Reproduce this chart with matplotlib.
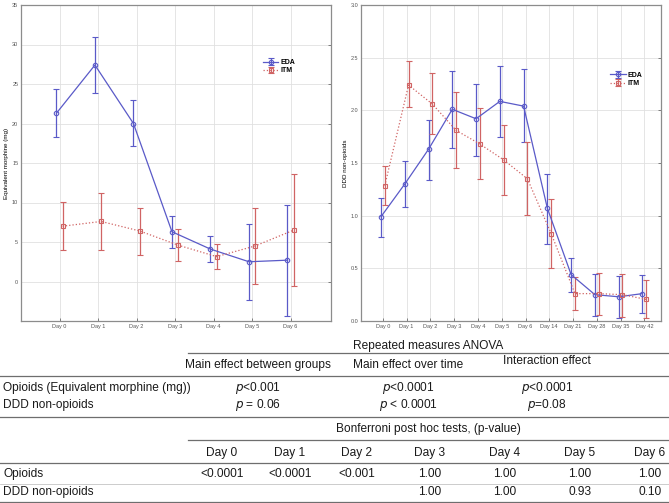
import matplotlib
matplotlib.use("Agg")
import matplotlib.pyplot as plt
from matplotlib.lines import Line2D
from matplotlib import font_manager as fm
import numpy as np

names = {f.name for f in fm.fontManager.ttflist}
narrow = "Liberation Sans Narrow" if "Liberation Sans Narrow" in names else "Liberation Sans"
plt.rcParams['font.family'] = [narrow, 'DejaVu Sans']

# ---------------- data ----------------
days_left = ["Day 0", "Day 1", "Day 2", "Day 3", "Day 4", "Day 5", "Day 6"]
eda_morph = [21.3, 27.4, 20.0, 6.3, 4.1, 2.5, 2.7]
eda_morph_lo = [18.3, 23.8, 17.1, 4.3, 2.5, -2.3, -4.4]
eda_morph_hi = [24.4, 30.9, 23.0, 8.3, 5.7, 7.3, 9.7]
itm_morph = [7.0, 7.6, 6.4, 4.6, 3.15, 4.5, 6.5]
itm_morph_lo = [3.95, 4.0, 3.4, 2.6, 1.55, -0.3, -0.6]
itm_morph_hi = [10.1, 11.2, 9.3, 6.7, 4.7, 9.3, 13.6]

days_right = ["Day 0", "Day 1", "Day 2", "Day 3", "Day 4", "Day 5", "Day 6",
              "Day 14", "Day 21", "Day 28", "Day 35", "Day 42"]
eda_ddd = [0.99, 1.30, 1.63, 2.01, 1.92, 2.085, 2.04, 1.07, 0.44, 0.25, 0.23, 0.26]
eda_ddd_lo = [0.80, 1.08, 1.34, 1.64, 1.57, 1.75, 1.70, 0.73, 0.28, 0.05, 0.03, 0.08]
eda_ddd_hi = [1.17, 1.52, 1.91, 2.37, 2.25, 2.42, 2.39, 1.40, 0.60, 0.45, 0.43, 0.44]
itm_ddd = [1.285, 2.24, 2.06, 1.81, 1.68, 1.53, 1.35, 0.83, 0.26, 0.26, 0.25, 0.205]
itm_ddd_lo = [1.10, 2.03, 1.78, 1.45, 1.35, 1.20, 1.01, 0.50, 0.10, 0.06, 0.04, 0.025]
itm_ddd_hi = [1.47, 2.47, 2.35, 2.17, 2.02, 1.86, 1.70, 1.16, 0.42, 0.46, 0.45, 0.39]

groups = ["EDA", "ITM"]

anova_title = "Repeated measures ANOVA"
anova_cols = ["Main effect between groups", "Main effect over time", "Interaction effect"]
anova_rows = ["Opioids (Equivalent morphine (mg))", "DDD non-opioids"]
anova_vals = [["$p$<0.001", "$p$<0.0001", "$p$<0.0001"],
              ["$p$ = 0.06", "$p$ < 0.0001", "$p$=0.08"]]

bonf_title = "Bonferroni post hoc tests, (p-value)"
bonf_cols = ["Day 0", "Day 1", "Day 2", "Day 3", "Day 4", "Day 5", "Day 6"]
bonf_rows = ["Opioids", "DDD non-opioids"]
bonf_vals = [["<0.0001", "<0.0001", "<0.001", "1.00", "1.00", "1.00", "1.00"],
             ["", "", "", "1.00", "1.00", "0.93", "0.10"]]

# ---------------- figure ----------------
W, H = 669, 503
fig = plt.figure(figsize=(W / 100, H / 100), dpi=100)

def fx(px):
    return px / W

def fy(py):
    return 1 - py / H

BLUE = "#5a5ac8"
RED = "#d06464"

def setup(ax, ylabel):
    ax.grid(True, color="#e0e0e0", lw=0.6)
    ax.set_axisbelow(True)
    for s in ax.spines.values():
        s.set_color("#8c8c8c")
        s.set_linewidth(0.9)
    ax.tick_params(axis="both", labelsize=4, length=2, width=0.5, colors="#555555", pad=2)
    ax.tick_params(axis="y", direction="in", right=True, left=False)
    ax.tick_params(axis="x", direction="in", top=False)
    ax.set_ylabel(ylabel, fontsize=4.5, labelpad=2, family="Liberation Sans")

def draw(ax, x, mean, lo, hi, color, ls, marker, label):
    mean = np.array(mean)
    err = [mean - np.array(lo), np.array(hi) - mean]
    ax.errorbar(x, mean, yerr=err, color=color, ls=ls, lw=0.9, marker=marker,
                ms=3.2, mfc="none", mec=color, mew=0.8, capsize=2, elinewidth=0.9,
                capthick=0.8, label=label)

# Left axes
axL = fig.add_axes([fx(21), fy(321), fx(310), 316 / H])
xl = np.arange(len(days_left))
draw(axL, xl - 0.08, eda_morph, eda_morph_lo, eda_morph_hi, BLUE, "-", "o", groups[0])
draw(axL, xl + 0.08, itm_morph, itm_morph_lo, itm_morph_hi, RED, ":", "s", groups[1])
axL.set_xlim(-1, 7.05)
axL.set_ylim(-5, 35)
axL.set_yticks(np.arange(0, 36, 5))
axL.set_xticks(xl)
axL.set_xticklabels(days_left)
setup(axL, "Equivalent morphine (mg)")
axL.legend(loc="upper left", bbox_to_anchor=(0.77, 0.84), frameon=False,
           handlelength=2.2, handletextpad=0.3, borderpad=0, labelspacing=0.2,
           prop={"family": "Liberation Sans", "weight": "bold", "size": 5})

# Right axes
axR = fig.add_axes([fx(361), fy(321), fx(300), 316 / H])
xr = np.arange(len(days_right))
draw(axR, xr - 0.08, eda_ddd, eda_ddd_lo, eda_ddd_hi, BLUE, "-", "o", groups[0])
draw(axR, xr + 0.08, itm_ddd, itm_ddd_lo, itm_ddd_hi, RED, ":", "s", groups[1])
axR.set_xlim(-0.92, 11.7)
axR.set_ylim(0, 3.0)
axR.set_yticks(np.arange(0, 3.01, 0.5))
axR.set_yticklabels([f"{v:.1f}" for v in np.arange(0, 3.01, 0.5)])
axR.set_xticks(xr)
axR.set_xticklabels(days_right)
setup(axR, "DDD non-opioids")
axR.legend(loc="upper left", bbox_to_anchor=(0.82, 0.80), frameon=False,
           handlelength=2.2, handletextpad=0.3, borderpad=0, labelspacing=0.2,
           prop={"family": "Liberation Sans", "weight": "bold", "size": 5})

# ---------------- table ----------------
TS = 8.6
def hline(y, x0=0, x1=W, lw=0.9, color="#6e6e6e"):
    fig.add_artist(Line2D([fx(x0), fx(x1)], [fy(y), fy(y)], transform=fig.transFigure,
                          color=color, lw=lw))

def txt(x, y, s, ha="center"):
    fig.text(fx(x), fy(y), s, ha=ha, va="center", fontsize=TS, color="#1a1a1a")

anova_x = [258, 408, 547]
txt(428, 346, anova_title)
hline(353, 188, W)
for x, c, y in zip(anova_x, anova_cols, [365, 365, 361]):
    txt(x, y, c)
hline(376)
for r, (name, vals) in enumerate(zip(anova_rows, anova_vals)):
    y = 388 + r * 17
    txt(3, y, name, ha="left")
    for x, v in zip(anova_x, vals):
        txt(x, y, v)
hline(417)

bonf_x = [222, 290, 357, 430, 505, 580, 650]
txt(428, 429, bonf_title)
hline(440, 188, W)
for x, c in zip(bonf_x, bonf_cols):
    txt(x, 453, c)
hline(463)
for r, (name, vals) in enumerate(zip(bonf_rows, bonf_vals)):
    y = 474 + r * 18
    txt(3, y, name, ha="left")
    for x, v in zip(bonf_x, vals):
        if v:
            txt(x, y, v)
hline(484, lw=0.5, color="#b8b8b8")
hline(502)

fig.savefig("out.png", dpi=100)
